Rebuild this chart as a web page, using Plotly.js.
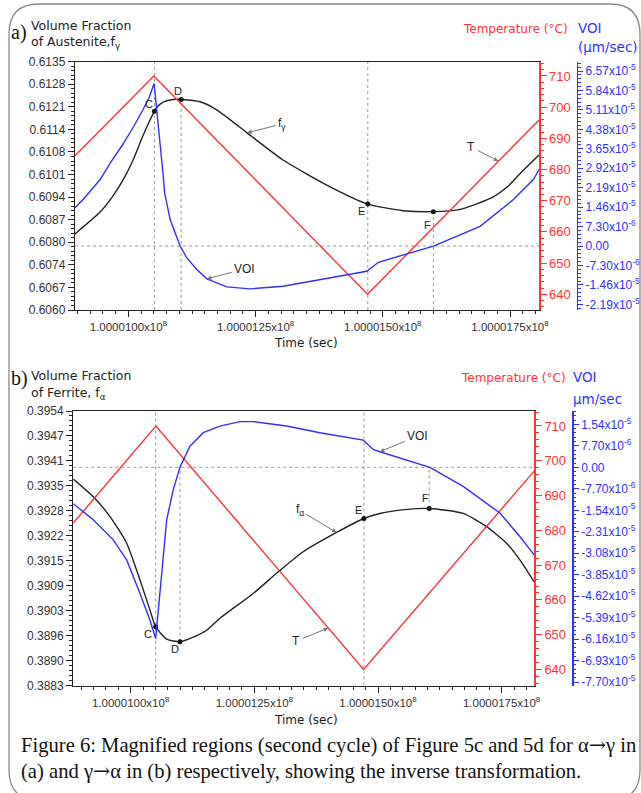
<!DOCTYPE html>
<html><head><meta charset="utf-8">
<script src="https://cdn.plot.ly/plotly-3.0.1.min.js"></script>
<style>html,body{margin:0;padding:0;background:#fff}#chart{width:641px;height:793px}</style>
</head><body><div id="chart"></div>
<script>
// ---------- Panel (a) data : alpha -> gamma ----------
const timeFracA = [100000895,100000944.4,100000968,100000989.6,100001009.2,100001026.9,100001039.7,100001051.1,100001056.4,100001068.2,100001087.9,100001103.6,100001140.9,100001174.3,100001233.3,100001304,100001396.4,100001470.5,100001539.9,100001599.4,100001652.5,100001717.3,100001744.8,100001770.4,100001807];
const fracGammaA = [0.60830,0.60896,0.60941,0.60993,0.61053,0.61120,0.61165,0.61200,0.61213,0.61228,0.61236,0.61236,0.61229,0.61204,0.61135,0.61053,0.60972,0.60920,0.60900,0.60897,0.60904,0.60942,0.60972,0.61013,0.61068];
const timeVoiA = [100000895,100000911,100000944.4,100000966,100000987.6,100001009.2,100001028.9,100001040.7,100001050.5,100001055.8,100001062.3,100001068.2,100001071.1,100001082,100001101.6,100001114.8,100001134.4,100001154.1,100001193.4,100001239.2,100001304,100001396.4,100001468.5,100001491.4,100001599.5,100001691.2,100001756.7,100001769.8,100001796,100001807];
const voiA = [1.434e-5,1.746e-5,2.497e-5,3.173e-5,3.774e-5,4.45e-5,5.126e-5,5.576e-5,6.102e-5,5.126e-5,4.0e-5,2.685e-5,2.009e-5,0.995e-5,0,-0.443e-5,-0.882e-5,-1.232e-5,-1.532e-5,-1.607e-5,-1.51e-5,-1.194e-5,-0.946e-5,-0.608e-5,0,0.743e-5,1.746e-5,1.998e-5,2.497e-5,2.873e-5];
const timeTempA = [100000895,100001050,100001470,100001807];
const tempA = [684.4,710,640,695.9];
const eventsA = {C:7, D:11, E:17, F:19};

// ---------- Panel (b) data : gamma -> alpha ----------
const timeFracB = [100000884,100000924.4,100000958.2,100000991.9,100001018.8,100001039,100001050.5,100001072.8,100001099.6,100001126.5,100001153.6,100001180.5,100001247.8,100001298.3,100001348.8,100001416.3,100001471.5,100001503.8,100001554,100001603.5,100001672.2,100001719.5,100001759.9,100001786.8,100001815.7];
const fracAlphaB = [0.39364,0.39318,0.39267,0.39198,0.39103,0.39025,0.38982,0.38950,0.38943,0.38955,0.38973,0.39004,0.39068,0.39124,0.39176,0.39226,0.39262,0.39275,0.39285,0.39288,0.39275,0.39241,0.39198,0.39155,0.39098];
const timeVoiB = [100000884,100000924.4,100000964.8,100000991.9,100001018.8,100001039,100001050.5,100001059.2,100001072.8,100001086.1,100001099.6,100001119.8,100001146.7,100001180.5,100001220.9,100001247.8,100001315.3,100001382.6,100001470.1,100001490.3,100001503.8,100001604.9,100001672.2,100001746.4,100001786.8,100001815.7];
const voiB = [-1.303e-5,-1.879e-5,-2.599e-5,-3.319e-5,-4.518e-5,-5.479e-5,-6.138e-5,-4.518e-5,-1.879e-5,-0.799e-5,0,0.76e-5,1.242e-5,1.48e-5,1.638e-5,1.638e-5,1.48e-5,1.242e-5,0.976e-5,0.641e-5,0.558e-5,0,-0.68e-5,-1.638e-5,-2.48e-5,-3.139e-5];
const timeTempB = [100000884,100001051,100001471,100001816];
const tempB = [682.1,710,640,697.1];
const eventsB = {C:6, D:8, E:16, F:19};

// ---------- tick labels ----------
const timeTickVals = [100001000,100001250,100001500,100001750];
const timeTickText = ['1.0000100x10<sup>8</sup>','1.0000125x10<sup>8</sup>','1.0000150x10<sup>8</sup>','1.0000175x10<sup>8</sup>'];
const fracTickTextA = ['0.6060','0.6067','0.6074','0.6080','0.6087','0.6094','0.6101','0.6108','0.6114','0.6121','0.6128','0.6135'];
const fracTickTextB = ['0.3883','0.3890','0.3896','0.3903','0.3909','0.3915','0.3922','0.3928','0.3935','0.3941','0.3947','0.3954'];
const tempTickVals = [640,650,660,670,680,690,700,710];
const voiTickValsA = [-2.19e-5,-1.46e-5,-7.30e-6,0,7.30e-6,1.46e-5,2.19e-5,2.92e-5,3.65e-5,4.38e-5,5.11e-5,5.84e-5,6.57e-5];
const voiTickTextA = ['-2.19x10<sup>-5</sup>','-1.46x10<sup>-5</sup>','-7.30x10<sup>-6</sup>','0.00','7.30x10<sup>-6</sup>','1.46x10<sup>-5</sup>','2.19x10<sup>-5</sup>','2.92x10<sup>-5</sup>','3.65x10<sup>-5</sup>','4.38x10<sup>-5</sup>','5.11x10<sup>-5</sup>','5.84x10<sup>-5</sup>','6.57x10<sup>-5</sup>'];
const voiTickValsB = [-7.70e-5,-6.93e-5,-6.16e-5,-5.39e-5,-4.62e-5,-3.85e-5,-3.08e-5,-2.31e-5,-1.54e-5,-7.70e-6,0,7.70e-6,1.54e-5];
const voiTickTextB = ['-7.70x10<sup>-5</sup>','-6.93x10<sup>-5</sup>','-6.16x10<sup>-5</sup>','-5.39x10<sup>-5</sup>','-4.62x10<sup>-5</sup>','-3.85x10<sup>-5</sup>','-3.08x10<sup>-5</sup>','-2.31x10<sup>-5</sup>','-1.54x10<sup>-5</sup>','-7.70x10<sup>-6</sup>','0.00','7.70x10<sup>-6</sup>','1.54x10<sup>-5</sup>'];

// ---------- layout helpers ----------
const W = 641, H = 793;
const P = x => x / W, Q = y => 1 - y / H;
const BLACK = '#222', RED = '#ff3333', BLUE = '#3030ff', GRID = '#9a9a9a';
const SANS = 'Liberation Sans, Arial, sans-serif';
const DV = 'DejaVu Sans, Verdana, sans-serif';
const SERIF = 'Liberation Serif, Times New Roman, serif';

const xRangeA = [100000895, 100001807], xRangeB = [100000884, 100001816];
const fracRangeA = [0.6060, 0.6135], fracRangeB = [0.3883, 0.3954];
const tempRangeA = [634.97, 714.58], tempRangeB = [635.4, 714.3];
const voiRangeA = [-2.40e-5, 6.92e-5], voiRangeB = [-7.82e-5, 2.02e-5];

function lin(r, n) { const a = []; for (let i = 0; i <= n; i++) a.push(r[0] + (r[1] - r[0]) * i / n); return a; }

function xAxis(domain, range, anchor) {
  return {domain, range, anchor, tickmode:'array', tickvals:timeTickVals, ticktext:timeTickText,
    ticks:'outside', ticklen:6, tickcolor:BLACK, showline:true, linecolor:BLACK, linewidth:1.2, mirror:true,
    showgrid:false, zeroline:false, tickfont:{family:SANS, size:11.5, color:'#333'},
    minor:{ticks:'outside', ticklen:3, tickcolor:BLACK, tickmode:'linear', tick0:100001000, dtick:25, showgrid:false}};
}
function fracAxis(domain, range, anchor, text) {
  return {domain, range, anchor, tickmode:'array', tickvals:lin(range, 11), ticktext:text,
    ticks:'outside', ticklen:6, tickcolor:BLACK, showline:true, linecolor:BLACK, linewidth:1.2,
    showgrid:false, zeroline:false, tickfont:{family:SANS, size:12, color:'#333'},
    minor:{ticks:'outside', ticklen:3, tickcolor:BLACK, tickmode:'linear', tick0:range[0], dtick:(range[1]-range[0])/55, showgrid:false}};
}
function tempAxis(range, anchor, overlaying) {
  return {range, anchor, overlaying, side:'right', tickmode:'array', tickvals:tempTickVals,
    ticks:'outside', ticklen:6, tickcolor:RED, showline:true, linecolor:RED, linewidth:1.5,
    showgrid:false, zeroline:false, tickfont:{family:SANS, size:13, color:RED},
    minor:{ticks:'outside', ticklen:3, tickcolor:RED, tickmode:'linear', tick0:640, dtick:2, showgrid:false}};
}
function voiAxis(range, position, overlaying, vals, text, step) {
  return {range, anchor:'free', position, overlaying, side:'right', tickmode:'array', tickvals:vals, ticktext:text,
    ticks:'outside', ticklen:5, tickcolor:BLUE, showline:true, linecolor:BLUE, linewidth:1.5,
    showgrid:false, zeroline:false, tickfont:{family:SANS, size:12, color:BLUE},
    minor:{ticks:'outside', ticklen:2.5, tickcolor:BLUE, tickmode:'linear', tick0:0, dtick:step/5, showgrid:false}};
}

const line = (c) => ({color:c, width:1.4});
const smooth = (c) => ({color:c, width:1.4, shape:'spline', smoothing:0.6});
const data = [
  {x:timeTempA, y:tempA, xaxis:'x', yaxis:'y2', mode:'lines', line:line(RED)},
  {x:timeVoiA, y:voiA, xaxis:'x', yaxis:'y3', mode:'lines', line:line(BLUE)},
  {x:timeFracA, y:fracGammaA, xaxis:'x', yaxis:'y', mode:'lines', line:smooth(BLACK)},
  {x:Object.values(eventsA).map(i => timeFracA[i]), y:Object.values(eventsA).map(i => fracGammaA[i]),
   xaxis:'x', yaxis:'y', mode:'markers', marker:{color:'#111', size:5}},
  {x:timeTempB, y:tempB, xaxis:'x2', yaxis:'y5', mode:'lines', line:line(RED)},
  {x:timeVoiB, y:voiB, xaxis:'x2', yaxis:'y6', mode:'lines', line:line(BLUE)},
  {x:timeFracB, y:fracAlphaB, xaxis:'x2', yaxis:'y4', mode:'lines', line:smooth(BLACK)},
  {x:Object.values(eventsB).map(i => timeFracB[i]), y:Object.values(eventsB).map(i => fracAlphaB[i]),
   xaxis:'x2', yaxis:'y4', mode:'markers', marker:{color:'#111', size:5}}
];

// reference dotted lines
const dot = {color:GRID, width:1, dash:'dot'};
function vline(xref, yref, x, y0, y1) { return {type:'line', xref, yref, x0:x, x1:x, y0, y1, line:dot, layer:'below'}; }
const zeroInFracB = fracRangeB[0] + (0 - voiRangeB[0]) / (voiRangeB[1] - voiRangeB[0]) * (fracRangeB[1] - fracRangeB[0]);

function roundRect(x0, y0, x1, y1, r) {
  const px = v => P(v), py = v => Q(v);
  return `M ${px(x0)} ${py(y0 + r)} Q ${px(x0)} ${py(y0)} ${px(x0 + r)} ${py(y0)} L ${px(x1 - r)} ${py(y0)} Q ${px(x1)} ${py(y0)} ${px(x1)} ${py(y0 + r)} L ${px(x1)} ${py(y1 - r)} Q ${px(x1)} ${py(y1)} ${px(x1 - r)} ${py(y1)} L ${px(x0 + r)} ${py(y1)} Q ${px(x0)} ${py(y1)} ${px(x0)} ${py(y1 - r)} Z`;
}

const shapes = [
  {type:'path', xref:'paper', yref:'paper', path:roundRect(9, 4, 640, 800, 30), line:{color:'#8a8a8a', width:1.3}},
  vline('x', 'y', timeFracA[eventsA.C], fracRangeA[0], fracRangeA[1]),
  vline('x', 'y', timeFracA[eventsA.D], fracRangeA[0], fracGammaA[eventsA.D]),
  vline('x', 'y', timeFracA[eventsA.E], fracRangeA[0], fracRangeA[1]),
  vline('x', 'y', timeFracA[eventsA.F], fracRangeA[0], fracGammaA[eventsA.F]),
  {type:'line', xref:'x', yref:'y3', x0:xRangeA[0], x1:xRangeA[1], y0:0, y1:0, line:dot, layer:'below'},
  vline('x2', 'y4', timeFracB[eventsB.C], fracRangeB[0], fracRangeB[1]),
  vline('x2', 'y4', timeFracB[eventsB.D], fracAlphaB[eventsB.D], zeroInFracB),
  vline('x2', 'y4', timeFracB[eventsB.E], fracRangeB[0], fracRangeB[1]),
  vline('x2', 'y4', timeFracB[eventsB.F], fracAlphaB[eventsB.F], zeroInFracB),
  {type:'line', xref:'x2', yref:'y6', x0:xRangeB[0], x1:xRangeB[1], y0:0, y1:0, line:dot, layer:'below'}
];

function txt(text, x, y, font, xanchor) {
  return {text, x:P(x), y:Q(y), xref:'paper', yref:'paper', showarrow:false, xanchor:xanchor || 'left', yanchor:'middle', font};
}
function ev(text, xref, yref, xs, ys, i, dx, dy) {
  return {text, xref, yref, x:xs[i], y:ys[i], showarrow:false, xshift:dx, yshift:dy, font:{family:SANS, size:11, color:BLACK}};
}
function arrowLabel(text, xref, yref, x, y, ax, ay) {
  return {text, xref, yref, x, y, ax, ay, showarrow:true, arrowhead:2, arrowsize:0.9, arrowwidth:1, arrowcolor:'#777',
    standoff:0, startstandoff:1, font:{family:SANS, size:12, color:BLACK}};
}
const ARROW = '<span style="font-family:DejaVu Serif">→</span>';

const annotations = [
  txt('a)', 9, 32, {family:SERIF, size:20, color:'#111'}),
  txt('Volume Fraction', 29, 25, {family:DV, size:12.5, color:BLACK}),
  txt('of Austenite,f<sub>γ</sub>', 29, 43, {family:DV, size:12.5, color:BLACK}),
  txt('Temperature (°C)', 461, 28.5, {family:DV, size:12, color:RED}),
  txt('VOI', 576, 28, {family:DV, size:13.5, color:BLUE}),
  txt('(μm/sec)', 576, 47, {family:DV, size:13.5, color:BLUE}),
  txt('Time (sec)', 306, 343, {family:DV, size:12, color:BLACK}, 'center'),
  ev('C', 'x', 'y', timeFracA, fracGammaA, eventsA.C, -5, 7),
  ev('D', 'x', 'y', timeFracA, fracGammaA, eventsA.D, -3, 8),
  ev('E', 'x', 'y', timeFracA, fracGammaA, eventsA.E, -6, -7),
  ev('F', 'x', 'y', timeFracA, fracGammaA, eventsA.F, -6, -13),
  arrowLabel('f<sub>γ</sub>', 'x', 'y', timeFracA[14], fracGammaA[14], 35, -9),
  arrowLabel('VOI', 'x', 'y3', timeVoiA[17], voiA[17], 38, -10),
  arrowLabel('T', 'x', 'y2', 100001727.2, 682.7, -27, -14),

  txt('b)', 9, 378, {family:SERIF, size:20, color:'#111'}),
  txt('Volume Fraction', 29, 375, {family:DV, size:12.5, color:BLACK}),
  txt('of Ferrite, f<sub>α</sub>', 29, 393, {family:DV, size:12.5, color:BLACK}),
  txt('Temperature (°C)', 459, 377.5, {family:DV, size:12, color:RED}),
  txt('VOI', 571, 377, {family:DV, size:13.5, color:BLUE}),
  txt('μm/sec', 571, 399, {family:DV, size:13.5, color:BLUE}),
  txt('Time (sec)', 306, 720, {family:DV, size:12, color:BLACK}, 'center'),
  ev('C', 'x2', 'y4', timeFracB, fracAlphaB, eventsB.C, -8, -7),
  ev('D', 'x2', 'y4', timeFracB, fracAlphaB, eventsB.D, -5, -7),
  ev('E', 'x2', 'y4', timeFracB, fracAlphaB, eventsB.E, -5, 8),
  ev('F', 'x2', 'y4', timeFracB, fracAlphaB, eventsB.F, -4, 10),
  arrowLabel('f<sub>α</sub>', 'x2', 'y4', timeFracB[15], fracAlphaB[15], -37, -22),
  arrowLabel('VOI', 'x2', 'y6', timeVoiB[20], voiB[20], 38, -16),
  arrowLabel('T', 'x2', 'y5', 100001399.3, 651.9, -32, 13),

  txt('Figure 6: Magnified regions (second cycle) of Figure 5c and 5d for α' + ARROW + 'γ in', 19, 745, {family:SERIF, size:20.6, color:'#111'}),
  txt('(a) and γ' + ARROW + 'α in (b) respectively, showing the inverse transformation.', 19, 771, {family:SERIF, size:20.6, color:'#111'})
];

const layout = {
  width:W, height:H, margin:{l:0, r:0, t:0, b:0}, showlegend:false,
  paper_bgcolor:'#fff', plot_bgcolor:'#fff',
  xaxis: xAxis([P(75), P(539)], xRangeA, 'y'),
  yaxis: fracAxis([Q(310), Q(61.7)], fracRangeA, 'x', fracTickTextA),
  yaxis2: tempAxis(tempRangeA, 'x', 'y'),
  yaxis3: voiAxis(voiRangeA, P(576.7), 'y', voiTickValsA, voiTickTextA, 7.3e-6),
  xaxis2: xAxis([P(73.3), P(534.3)], xRangeB, 'y4'),
  yaxis4: fracAxis([Q(685.5), Q(411)], fracRangeB, 'x2', fracTickTextB),
  yaxis5: tempAxis(tempRangeB, 'x2', 'y4'),
  yaxis6: voiAxis(voiRangeB, P(572.3), 'y4', voiTickValsB, voiTickTextB, 7.7e-6),
  shapes, annotations
};

Plotly.newPlot('chart', data, layout, {staticPlot:true, displayModeBar:false});
</script></body></html>
